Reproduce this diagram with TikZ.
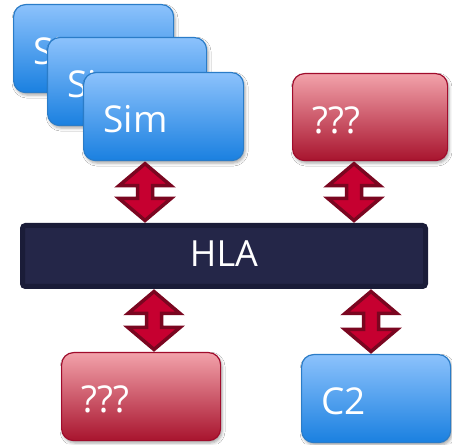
\documentclass[tikz,border=0pt]{standalone}
\usepackage{fontspec}
\setmainfont{Open Sans}
\usetikzlibrary{calc,shadows.blur}

\definecolor{bluetop}{HTML}{8CC2FC}
\definecolor{bluebot}{HTML}{1A80E0}
\definecolor{blueline}{HTML}{2A7CC8}
\definecolor{redtop}{HTML}{F2A2AA}
\definecolor{redbot}{HTML}{A8142E}
\definecolor{redline}{HTML}{A00C2C}
\definecolor{barfill}{HTML}{242648}
\definecolor{barline}{HTML}{1A1C38}
\definecolor{arrowfill}{HTML}{C60030}
\definecolor{arrowline}{HTML}{7A0620}

\tikzset{
  card/.style={rounded corners=12pt, line width=1.2pt, anchor=north west,
    text=white, font=\fontsize{37}{40}\selectfont, align=left,
    inner xsep=20pt, inner ysep=0pt, text height=32pt, text depth=0pt,
    blur shadow={shadow xshift=1.5pt, shadow yshift=-2.5pt,
      shadow blur radius=3pt, shadow opacity=35}},
  bluecard/.style={card, draw=blueline, top color=bluetop, bottom color=bluebot},
  redcard/.style={card, draw=redline, top color=redtop, bottom color=redbot},
  bus/.style={fill=barfill, draw=barline, line width=5pt, rounded corners=3pt,
    text=white, font=\fontsize{36}{40}\selectfont, inner sep=0pt,
    text height=22pt, text depth=0pt},
  twoway/.style={fill=arrowfill, draw=arrowline, line width=3.5pt, line join=miter},
}

% double-headed block arrow at x = #1 between the bottom of #2 and the top of #3
\newcommand\twowaylink[3]{%
  \path[twoway] let \p1=(#2), \p2=(#3) in
    ({#1pt},{\y1-2.5pt}) -- ({#1pt+26pt},{\y1-24.5pt}) -- ({#1pt+7.5pt},{\y1-24.5pt})
    -- ({#1pt+7.5pt},{\y2+24.5pt}) -- ({#1pt+26pt},{\y2+24.5pt}) -- ({#1pt},{\y2+2.5pt})
    -- ({#1pt-26pt},{\y2+24.5pt}) -- ({#1pt-7.5pt},{\y2+24.5pt})
    -- ({#1pt-7.5pt},{\y1-24.5pt}) -- ({#1pt-26pt},{\y1-24.5pt}) -- cycle;}

\begin{document}
\begin{tikzpicture}[x=1pt,y=1pt]
  \useasboundingbox[fill=white] (0,0) rectangle (452,444);

  % stacked simulators
  \node[bluecard, text width=120pt, minimum height=88pt] (sim1) at (13,440) {Sim};
  \node[bluecard, text width=119pt, minimum height=88pt] (sim2) at (47,407) {Sim};
  \node[bluecard, text width=120pt, minimum height=88pt] (sim3) at (83,372) {Sim};

  % unknown federate, upper right
  \node[redcard, text width=115pt, minimum height=87pt] (unkA) at (292,371) {???};

  % the runtime infrastructure bus
  \node[bus, minimum width=403pt, minimum height=61pt] (hla) at (224,188) {HLA};

  % lower federates
  \node[redcard, text width=119pt, minimum height=88pt] (unkB) at (61,92) {???};
  \node[bluecard, text width=109pt, minimum height=88pt] (c2) at (301,90) {C2};

  % connections to the bus
  \twowaylink{145}{sim3.south}{hla.north}
  \twowaylink{354}{unkA.south}{hla.north}
  \twowaylink{154}{hla.south}{unkB.north}
  \twowaylink{371}{hla.south}{c2.north}
\end{tikzpicture}
\end{document}
